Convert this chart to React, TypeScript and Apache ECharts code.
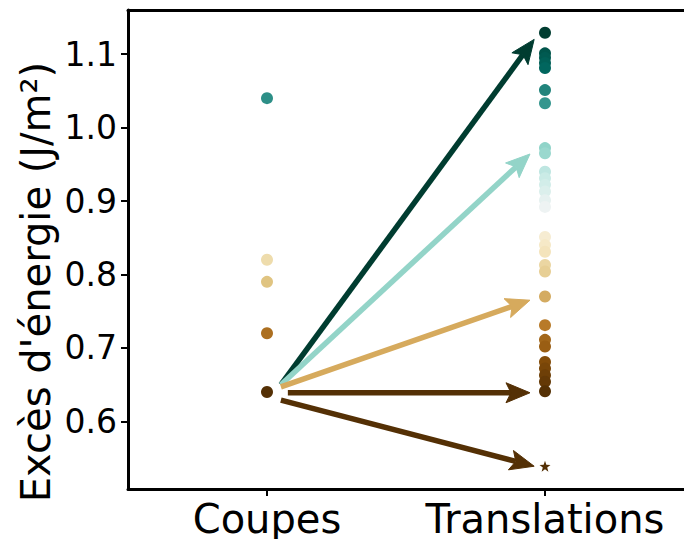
import React, { useEffect, useRef } from "react";
import * as echarts from "echarts";

const categories = ["Coupes", "Translations"];
const coupesValues = [1.04, 0.82, 0.79, 0.72, 0.64];
const translationValues = [
  1.129, 1.101, 1.095, 1.088, 1.081, 1.051, 1.033, 0.972, 0.965, 0.94, 0.931,
  0.922, 0.913, 0.901, 0.892, 0.851, 0.84, 0.831, 0.813, 0.804, 0.77, 0.731,
  0.711, 0.702, 0.681, 0.672, 0.663, 0.654, 0.641,
];
const starValue = 0.539;
const yTicks = [0.6, 0.7, 0.8, 0.9, 1.0, 1.1];
const arrowFrom = [
  [0.05, 0.65],
  [0.05, 0.65],
  [0.05, 0.647],
  [0.075, 0.639],
  [0.05, 0.629],
];
const arrowTo = [
  [0.961, 1.12],
  [0.946, 0.964],
  [0.946, 0.765],
  [0.946, 0.639],
  [0.961, 0.539],
];
const arrowColors = ["#003c30", "#93d4c8", "#d6aa5d", "#543005", "#543005"];
const brbg = [
  "#543005", "#8c510a", "#bf812d", "#dfc27d", "#f6e8c3", "#f5f5f5",
  "#c7eae5", "#80cdc1", "#35978f", "#01665e", "#003c30",
];

const FONT = "DejaVu Sans";

export default function App() {
  const ref = useRef<HTMLDivElement>(null);
  useEffect(() => {
    if (!ref.current) return;
    const chart = echarts.init(ref.current, null, { renderer: "svg" });
    const axisLineStyle = { color: "#000", width: 3 };
    const option: any = {
      animation: false,
      backgroundColor: "#fff",
      grid: { left: 128, right: -4, top: 10, bottom: 50, containLabel: false },
      visualMap: {
        show: false,
        type: "continuous",
        min: 0.64,
        max: 1.13,
        dimension: 1,
        seriesIndex: [0, 1, 2],
        inRange: { color: brbg },
      },
      xAxis: [
        {
          type: "category",
          data: categories,
          position: "bottom",
          boundaryGap: true,
          axisLine: { show: true, onZero: false, lineStyle: axisLineStyle },
          axisTick: { show: true, alignWithLabel: true, length: 7, lineStyle: { color: "#000", width: 2 } },
          axisLabel: {
            interval: 0,
            hideOverlap: false,
            fontSize: 40,
            color: "#000",
            fontFamily: FONT,
            margin: 10,
          },
          splitLine: { show: false },
        },
        {
          type: "value",
          min: -0.5,
          max: 1.5,
          position: "top",
          axisLine: { show: true, onZero: false, lineStyle: axisLineStyle },
          axisTick: { show: false },
          axisLabel: { show: false },
          splitLine: { show: false },
        },
      ],
      yAxis: {
        type: "value",
        min: 0.508,
        max: 1.16,
        axisLine: { show: true, onZero: false, lineStyle: axisLineStyle },
        axisTick: { show: true, customValues: yTicks, length: 7, lineStyle: { color: "#000", width: 2 } },
        axisLabel: {
          customValues: yTicks,
          formatter: (v: number) => v.toFixed(1),
          fontSize: 33,
          color: "#000",
          fontFamily: FONT,
          margin: 11,
        },
        splitLine: { show: false },
      },
      graphic: [
        {
          type: "text",
          x: 36,
          y: 282,
          rotation: Math.PI / 2,
          style: {
            text: "Excès d'énergie (J/m²)",
            fontSize: 40,
            fontFamily: FONT,
            fill: "#000",
            textAlign: "center",
            textVerticalAlign: "middle",
          },
        },
      ],
      series: [
        {
          type: "scatter",
          xAxisIndex: 1,
          yAxisIndex: 0,
          symbolSize: 12,
          itemStyle: { opacity: 1 },
          data: coupesValues.map((v) => [0, v]),
          z: 3,
        },
        {
          type: "scatter",
          xAxisIndex: 1,
          yAxisIndex: 0,
          symbolSize: 12,
          itemStyle: { opacity: 1 },
          data: translationValues.map((v) => [1, v]),
          z: 3,
        },
        {
          type: "scatter",
          xAxisIndex: 1,
          yAxisIndex: 0,
          symbol:
            "path://M0,-10 L2.35,-3.24 9.51,-3.09 3.8,1.24 5.88,8.09 0,4 -5.88,8.09 -3.8,1.24 -9.51,-3.09 -2.35,-3.24 Z",
          symbolSize: 11,
          itemStyle: { opacity: 1 },
          data: [[1, starValue]],
          z: 3,
        },
        {
          type: "custom",
          xAxisIndex: 1,
          yAxisIndex: 0,
          z: 4,
          data: arrowFrom.map((f, i) => [f[0], f[1], arrowTo[i][0], arrowTo[i][1], i]),
          renderItem: (params: any, api: any) => {
            const p0 = api.coord([api.value(0), api.value(1)]);
            const p1 = api.coord([api.value(2), api.value(3)]);
            const color = arrowColors[api.value(4)];
            const dx = p1[0] - p0[0];
            const dy = p1[1] - p0[1];
            const len = Math.sqrt(dx * dx + dy * dy);
            const ux = dx / len;
            const uy = dy / len;
            const px = -uy;
            const py = ux;
            const L = 24;
            const W = 10;
            const notch = 5;
            const bx = p1[0] - ux * L;
            const by = p1[1] - uy * L;
            const nx = p1[0] - ux * (L - notch);
            const ny = p1[1] - uy * (L - notch);
            return {
              type: "group",
              children: [
                {
                  type: "line",
                  shape: { x1: p0[0], y1: p0[1], x2: nx, y2: ny },
                  style: { stroke: color, lineWidth: 5.5, lineCap: "butt" },
                },
                {
                  type: "polygon",
                  shape: {
                    points: [
                      [p1[0], p1[1]],
                      [bx + px * W, by + py * W],
                      [nx, ny],
                      [bx - px * W, by - py * W],
                    ],
                  },
                  style: { fill: color, stroke: color, lineWidth: 1 },
                },
              ],
            };
          },
        },
      ],
    };
    chart.setOption(option);
    return () => chart.dispose();
  }, []);
  return (
    <div
      ref={ref}
      style={{ position: "fixed", left: 0, top: 0, width: 684, height: 539 }}
    />
  );
}
